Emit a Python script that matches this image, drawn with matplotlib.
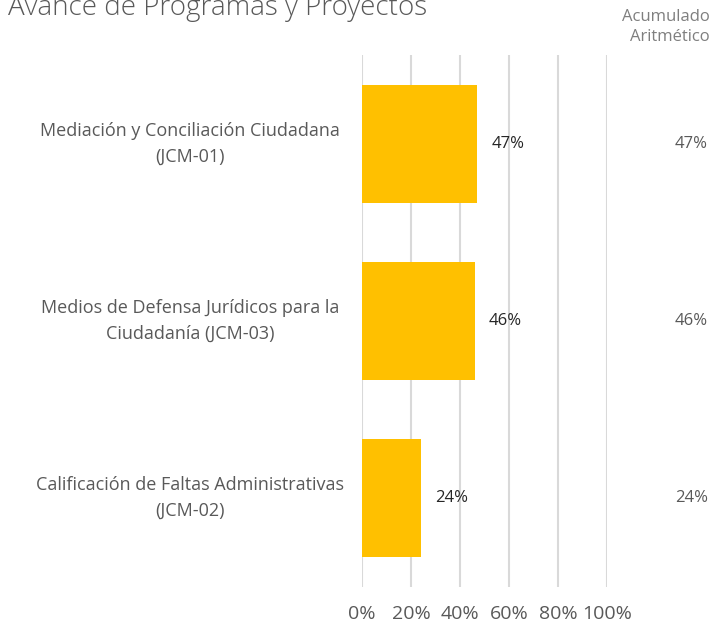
import matplotlib.pyplot as plt
from matplotlib.ticker import PercentFormatter
from matplotlib.transforms import offset_copy

categorias = ["Mediación y Conciliación Ciudadana\n(JCM-01)",
              "Medios de Defensa Jurídicos para la\nCiudadanía (JCM-03)",
              "Calificación de Faltas Administrativas\n(JCM-02)"]
avance = [0.47, 0.46, 0.24]
acumulado = [0.47, 0.46, 0.24]
ticks = [0, 0.2, 0.4, 0.6, 0.8, 1.0]

plt.rcParams['font.family'] = ['Open Sans', 'DejaVu Sans']

fig = plt.figure(figsize=(7.1, 6.23), dpi=100)
ax = fig.add_axes([362 / 710, 1 - 587 / 623, 245 / 710, 532 / 623])

y = list(range(len(categorias)))
ax.barh(y, avance, height=0.665, color="#FFC000", zorder=2)
ax.set_ylim(len(categorias) - 0.5, -0.5)
ax.set_xlim(0, 1)
ax.set_xticks(ticks)
ax.xaxis.set_major_formatter(PercentFormatter(1.0, decimals=0))
ax.tick_params(axis='x', length=0, pad=13, labelsize=14, labelcolor="#595959")
ax.set_yticks([])
ax.grid(axis='x', color="#d9d9d9", linewidth=1.5, zorder=0)
for s in ax.spines.values():
    s.set_visible(False)


# x en coordenadas de eje a partir de pixeles de la figura
def x_eje(px):
    return (px - 362) / 245


for yi, cat in zip(y, categorias):
    ax.text(x_eje(190), yi, cat, transform=ax.get_yaxis_transform(), ha='center',
            va='center', fontsize=13, color="#595959", linespacing=1.55, clip_on=False)

for yi, v in zip(y, avance):
    tr = offset_copy(ax.transData, fig=fig, x=14, y=0, units='dots')
    ax.text(v, yi, f"{v:.0%}", transform=tr, ha='left', va='center',
            fontsize=12, color="#262626", zorder=3)

for yi, v in zip(y, acumulado):
    ax.text(x_eje(708), yi, f"{v:.0%}", transform=ax.get_yaxis_transform(), ha='right',
            va='center', fontsize=12, color="#595959", clip_on=False)

fig.text(8 / 710, 1 - 15 / 623, "Avance de Programas y Proyectos", fontsize=20,
         color="#595959", ha='left', va='baseline', fontweight='light')
fig.text(710 / 710, 1 - 27 / 623, "Acumulado\nAritmético", fontsize=12,
         color="#7f7f7f", ha='right', va='center', linespacing=1.3)

fig.savefig("out.png", dpi=100)
